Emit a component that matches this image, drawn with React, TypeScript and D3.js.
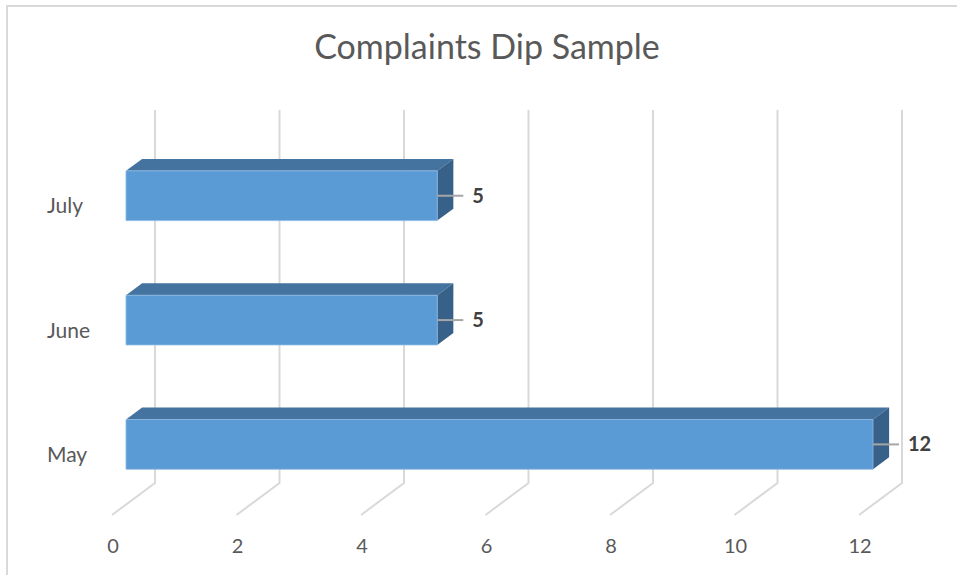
import React from "react";
import * as d3 from "d3";

const categories = ["July", "June", "May"];
const values = [5, 5, 12];
const ticks = [0, 2, 4, 6, 8, 10, 12];
const title = "Complaints Dip Sample";

const W = 957;
const H = 575;
// back wall plot area
const backLeft = 155;
const backRight = 902;
const backTop = 110;
const backBottom = 483;
// depth vector from back wall to front edge
const DX = -43;
const DY = 32;
// bar depth extent (fraction from back)
const dBack = 0.3;
const dFront = 0.674;
const barShift = 2;

export default function App() {
  const x = d3.scaleLinear().domain([0, 12]).range([backLeft, backRight]);
  const y = d3
    .scaleBand<string>()
    .domain(categories)
    .range([backTop + barShift, backBottom + barShift])
    .paddingInner(0.6)
    .paddingOuter(0.3);
  const yCat = d3.scaleBand<string>().domain(categories).range([backTop, backBottom]);

  const P = (v: number, yy: number, d: number): [number, number] => [x(v) + DX * d, yy + DY * d];
  const pts = (arr: [number, number][]) => arr.map((p) => p.join(",")).join(" ");

  const font = "Lato, 'Open Sans', sans-serif";
  const grid = "#d9d9d9";

  return (
    <svg width={W} height={H} style={{ position: "absolute", left: 0, top: 0 }}>
      <rect x={0} y={0} width={W} height={H} fill="#ffffff" />
      <rect x={7} y={6} width={W + 20} height={H + 20} fill="none" stroke="#d9d9d9" strokeWidth={2} />
      <text x={487} y={59} textAnchor="middle" fontFamily={font} fontSize={34} fill="#595959">
        {title}
      </text>
      {ticks.map((t) => {
        const [bx, by] = P(t, backBottom, 0);
        const [fx, fy] = P(t, backBottom, 1);
        return (
          <g key={t}>
            <polyline
              points={pts([[x(t), backTop], [bx, by], [fx, fy]])}
              fill="none"
              stroke={grid}
              strokeWidth={2}
            />
            <text x={fx + 1} y={553} textAnchor="middle" fontFamily={font} fontSize={20} fill="#595959">
              {t}
            </text>
          </g>
        );
      })}
      {categories.map((c, i) => {
        const y0 = y(c)!;
        const y1 = y0 + y.bandwidth();
        const v = values[i];
        const fTL = P(0, y0, dFront);
        const fTR = P(v, y0, dFront);
        const fBR = P(v, y1, dFront);
        const fBL = P(0, y1, dFront);
        const bTL = P(0, y0, dBack);
        const bTR = P(v, y0, dBack);
        const bBR = P(v, y1, dBack);
        const midY = (fTR[1] + fBR[1]) / 2;
        return (
          <g key={c}>
            <polygon points={pts([bTL, bTR, fTR, fTL])} fill="#44739f" />
            <polygon points={pts([bTR, bBR, fBR, fTR])} fill="#386189" />
            <polygon points={pts([fTL, fTR, fBR, fBL])} fill="#5b9bd5" stroke="#8cb8e2" strokeWidth={0.8} />
            <line x1={fTR[0]} y1={midY} x2={fTR[0] + 26} y2={midY} stroke="#a6a6a6" strokeWidth={2} />
            <text
              x={fTR[0] + 35}
              y={midY + 7}
              fontFamily={font}
              fontWeight="bold"
              fontSize={20}
              fill="#404040"
            >
              {v}
            </text>
          </g>
        );
      })}
      {categories.map((c) => {
        const cy = yCat(c)! + yCat.bandwidth() / 2 + DY;
        return (
          <text key={c} x={47} y={cy + 9} fontFamily={font} fontSize={21} fill="#595959">
            {c}
          </text>
        );
      })}
    </svg>
  );
}
